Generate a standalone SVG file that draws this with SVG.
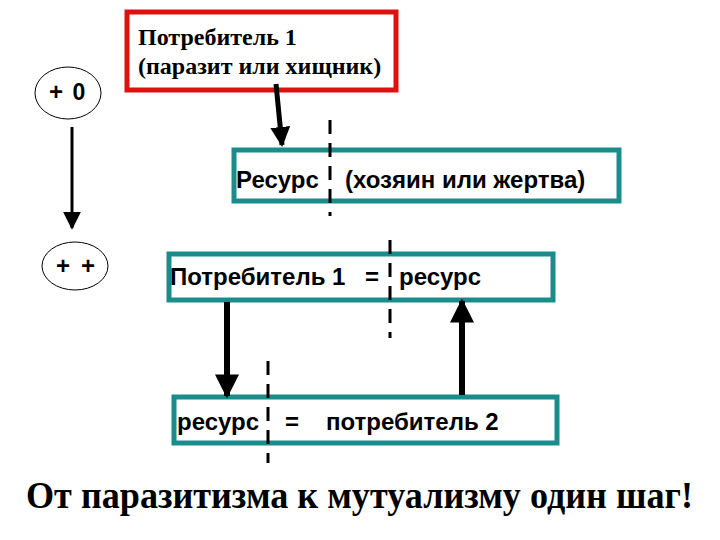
<svg xmlns="http://www.w3.org/2000/svg" width="720" height="540" viewBox="0 0 720 540">
<style>
.sans{font-family:"Liberation Sans",Arial,sans-serif;font-weight:bold;fill:#000}
.serif{font-family:"Liberation Serif","Times New Roman",serif;font-weight:bold;fill:#000}
.teal{fill:#fff;stroke:#1a8c8c;stroke-width:5}
.dash{stroke:#000;stroke-width:3;stroke-dasharray:14,9;fill:none}
.arr{stroke:#000;fill:none}
</style>
<defs>
<marker id="ah" viewBox="0 0 10 10" refX="9" refY="5" markerWidth="4" markerHeight="4" orient="auto" markerUnits="strokeWidth"><path d="M0,0 L10,5 L0,10 z" fill="#000"/></marker>
<marker id="ahs" viewBox="0 0 10 10" refX="9" refY="5" markerWidth="6" markerHeight="6" orient="auto" markerUnits="strokeWidth"><path d="M0,0 L10,5 L0,10 z" fill="#000"/></marker>
</defs>
<rect width="720" height="540" fill="#fff"/>
<g id="node-plus0">
<ellipse cx="68" cy="93" rx="33" ry="26" fill="#fff" stroke="#000" stroke-width="1"/>
<text class="sans" x="56" y="100" font-size="24" text-anchor="middle">+</text>
<text class="sans" x="79" y="100" font-size="23" text-anchor="middle">0</text>
</g>
<g id="node-plusplus">
<ellipse cx="75" cy="266" rx="33" ry="24" fill="#fff" stroke="#000" stroke-width="1"/>
<text class="sans" x="63" y="274" font-size="24" text-anchor="middle">+</text>
<text class="sans" x="88" y="274" font-size="24" text-anchor="middle">+</text>
</g>
<g id="node-consumer">
<rect x="127" y="12" width="269" height="78" fill="#fff" stroke="#e01010" stroke-width="5"/>
<text class="serif" x="138" y="45" font-size="24">Потребитель 1</text>
<text class="serif" x="138" y="74" font-size="24">(паразит или хищник)</text>
</g>
<g id="node-resource">
<rect x="234" y="150" width="385" height="51" class="teal"/>
<text class="sans" x="236" y="188" font-size="24">Ресурс</text>
<text class="sans" x="345" y="188" font-size="24">(хозяин или жертва)</text>
</g>
<g id="node-eq1">
<rect x="169" y="254" width="384" height="46" class="teal"/>
<text class="sans" x="170" y="285" font-size="24">Потребитель 1</text>
<text class="sans" x="365" y="285" font-size="24">=</text>
<text class="sans" x="399" y="285" font-size="24">ресурс</text>
</g>
<g id="node-eq2">
<rect x="174" y="397" width="383" height="46" class="teal"/>
<text class="sans" x="177" y="430" font-size="24">ресурс</text>
<text class="sans" x="285" y="430" font-size="24">=</text>
<text class="sans" x="326" y="430" font-size="24">потребитель 2</text>
</g>
<g id="connectors">
<line class="arr" x1="72" y1="127" x2="72" y2="228" stroke-width="3" marker-end="url(#ahs)"/>
<line class="arr" x1="276" y1="84" x2="282" y2="145" stroke-width="5" marker-end="url(#ah)"/>
<line class="arr" x1="227" y1="302" x2="227" y2="396" stroke-width="6" marker-end="url(#ah)"/>
<line class="arr" x1="462" y1="395" x2="462" y2="301" stroke-width="6" marker-end="url(#ah)"/>
<line class="dash" x1="330" y1="120" x2="330" y2="216"/>
<line class="dash" x1="390" y1="240" x2="390" y2="338"/>
<line class="dash" x1="268" y1="361" x2="268" y2="463"/>
</g>
<text class="serif" x="26" y="508" font-size="37" textLength="667" lengthAdjust="spacingAndGlyphs">От паразитизма к мутуализму один шаг!</text>
</svg>
